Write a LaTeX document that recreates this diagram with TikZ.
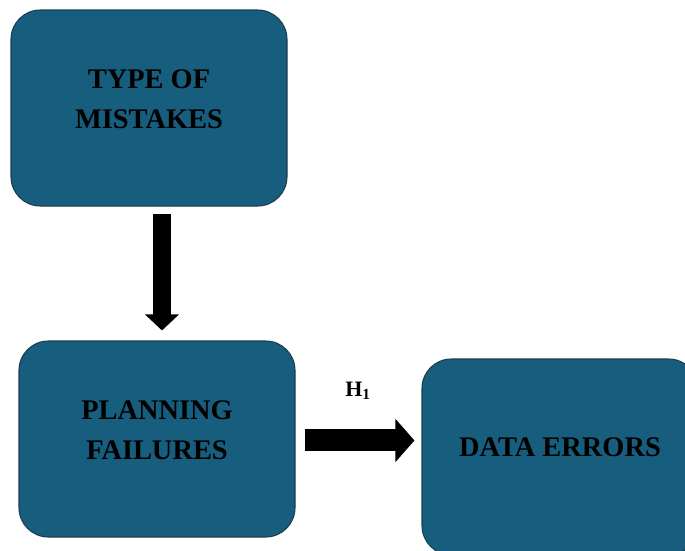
\documentclass[tikz,border=0pt]{standalone}
\usepackage{fontspec}
\setmainfont{Liberation Serif}
\usetikzlibrary{arrows.meta}
\definecolor{boxfill}{HTML}{175E7E}
\definecolor{boxline}{HTML}{1B3D4E}
\tikzset{
  box/.style={draw=boxline, line width=0.8pt, fill=boxfill, rounded corners=22pt,
    minimum width=207pt, minimum height=147pt, inner sep=0pt},
  boxtext/.style={align=center, font=\fontsize{21.3pt}{29.5pt}\selectfont\bfseries, text=black},
  bigarrowV/.style={line width=13.5pt, -{Triangle[length=12pt,width=24.75pt]}},
  bigarrowH/.style={line width=16.5pt, -{Triangle[length=14.25pt,width=31.5pt]}},
}
\begin{document}
\begin{tikzpicture}[x=0.75pt,y=-0.75pt]
\useasboundingbox (0,0) rectangle (685,550);
\clip (0,0) rectangle (685,550);
\node[box, label={[boxtext,yshift=6.5pt]center:{TYPE OF\\MISTAKES}}] (tm) at (149,108) {};
\node[box, label={[boxtext,yshift=6.5pt]center:{PLANNING\\FAILURES}}] (pf) at (157,439) {};
\node[box, label={[boxtext,yshift=7pt]center:{DATA ERRORS}}] (de) at (560,457) {};
\draw[bigarrowV, shorten <=5.25pt, shorten >=7.5pt] ([xshift=9.75pt]tm.south) -- ([xshift=3.75pt]pf.north);
\draw[bigarrowH, shorten <=6.75pt, shorten >=5.25pt] ([yshift=-1.1pt]pf.east) -- ([yshift=-1.1pt]pf.east -| de.west) coordinate (hend);
\node[font=\fontsize{16.5pt}{19pt}\selectfont\bfseries] (h1) at (358,391) {H\textsubscript{1}};
\end{tikzpicture}
\end{document}
